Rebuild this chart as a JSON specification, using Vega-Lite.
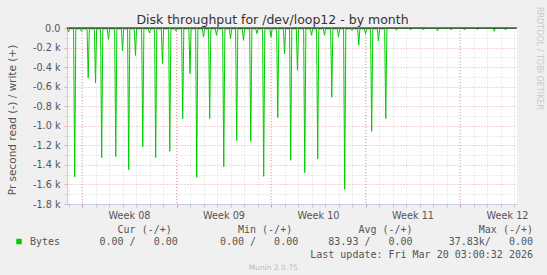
{
  "$schema": "https://vega.github.io/schema/vega-lite/v6.json",
  "width": 450,
  "height": 176,
  "autosize": {"type": "none"},
  "padding": {"left": 67, "top": 28, "right": 30, "bottom": 71},
  "background": "#f0f0f0",
  "config": {"font": "DejaVu Sans", "view": {"stroke": null, "fill": "#ffffff"}},
  "title": {"text": "Disk throughput for /dev/loop12 - by month", "frame": "group", "anchor": "middle", "dx": -19.5, "dy": 24, "offset": 4, "fontSize": 12.5, "fontWeight": "normal", "color": "#333333", "font": "DejaVu Sans"},
  "resolve": {"axis": {"x": "independent", "y": "independent"}},
  "layer": [
    {
      "data": {"values": [
        {"week": "2026-02-16T00:00:00"},
        {"week": "2026-02-23T00:00:00"},
        {"week": "2026-03-02T00:00:00"},
        {"week": "2026-03-09T00:00:00"},
        {"week": "2026-03-16T00:00:00"}
      ]},
      "mark": {"type": "rule", "color": "#e6a0a0", "strokeDash": [1, 2], "strokeWidth": 1},
      "encoding": {
        "x": {"field": "week", "type": "temporal",
          "scale": {"domain": [{"year": 2026, "month": 2, "date": 14, "hours": 21, "minutes": 20}, {"year": 2026, "month": 3, "date": 20, "hours": 5, "minutes": 20}], "nice": false},
          "axis": {"orient": "bottom", "labels": false, "ticks": false, "domain": false, "grid": false, "title": "Munin 2.0.75", "titleFont": "DejaVu Sans", "titleFontSize": 7.5, "titleFontWeight": "normal", "titleColor": "#bbbbbb", "titleX": 205.8, "titleY": 65.7, "titleAlign": "center", "titleBaseline": "alphabetic"}
        }
      }
    },
    {
      "data": {"values": [
        {"t": "2026-02-14T21:00:00", "v": -8},
        {"t": "2026-02-14T22:00:00", "v": -8},
        {"t": "2026-02-15T00:00:00", "v": -40},
        {"t": "2026-02-15T02:00:00", "v": -8},
        {"t": "2026-02-15T09:00:00", "v": -8},
        {"t": "2026-02-15T11:00:00", "v": -1524},
        {"t": "2026-02-15T13:00:00", "v": -8},
        {"t": "2026-02-15T21:00:00", "v": -8},
        {"t": "2026-02-15T23:00:00", "v": -34},
        {"t": "2026-02-16T01:00:00", "v": -8},
        {"t": "2026-02-16T09:00:00", "v": -8},
        {"t": "2026-02-16T11:00:00", "v": -508},
        {"t": "2026-02-16T13:00:00", "v": -8},
        {"t": "2026-02-16T22:00:00", "v": -8},
        {"t": "2026-02-17T00:00:00", "v": -563},
        {"t": "2026-02-17T02:00:00", "v": -8},
        {"t": "2026-02-17T09:00:00", "v": -8},
        {"t": "2026-02-17T11:00:00", "v": -1326},
        {"t": "2026-02-17T13:00:00", "v": -8},
        {"t": "2026-02-17T21:00:00", "v": -8},
        {"t": "2026-02-17T23:00:00", "v": -116},
        {"t": "2026-02-18T01:00:00", "v": -8},
        {"t": "2026-02-18T10:00:00", "v": -8},
        {"t": "2026-02-18T12:00:00", "v": -1316},
        {"t": "2026-02-18T14:00:00", "v": -8},
        {"t": "2026-02-18T22:00:00", "v": -8},
        {"t": "2026-02-19T00:00:00", "v": -232},
        {"t": "2026-02-19T02:00:00", "v": -8},
        {"t": "2026-02-19T09:00:00", "v": -8},
        {"t": "2026-02-19T11:00:00", "v": -1449},
        {"t": "2026-02-19T13:00:00", "v": -8},
        {"t": "2026-02-19T21:00:00", "v": -8},
        {"t": "2026-02-19T23:00:00", "v": -280},
        {"t": "2026-02-20T01:00:00", "v": -8},
        {"t": "2026-02-20T10:00:00", "v": -8},
        {"t": "2026-02-20T12:00:00", "v": -1214},
        {"t": "2026-02-20T14:00:00", "v": -8},
        {"t": "2026-02-20T22:00:00", "v": -8},
        {"t": "2026-02-21T00:00:00", "v": -51},
        {"t": "2026-02-21T02:00:00", "v": -8},
        {"t": "2026-02-21T09:00:00", "v": -8},
        {"t": "2026-02-21T11:00:00", "v": -1326},
        {"t": "2026-02-21T13:00:00", "v": -8},
        {"t": "2026-02-21T21:00:00", "v": -8},
        {"t": "2026-02-21T23:00:00", "v": -365},
        {"t": "2026-02-22T01:00:00", "v": -8},
        {"t": "2026-02-22T10:00:00", "v": -8},
        {"t": "2026-02-22T12:00:00", "v": -1261},
        {"t": "2026-02-22T14:00:00", "v": -8},
        {"t": "2026-02-22T21:00:00", "v": -8},
        {"t": "2026-02-22T23:00:00", "v": -30},
        {"t": "2026-02-23T01:00:00", "v": -8},
        {"t": "2026-02-23T09:00:00", "v": -8},
        {"t": "2026-02-23T11:00:00", "v": -927},
        {"t": "2026-02-23T13:00:00", "v": -8},
        {"t": "2026-02-23T22:00:00", "v": -8},
        {"t": "2026-02-24T00:00:00", "v": -467},
        {"t": "2026-02-24T02:00:00", "v": -8},
        {"t": "2026-02-24T10:00:00", "v": -8},
        {"t": "2026-02-24T12:00:00", "v": -1527},
        {"t": "2026-02-24T14:00:00", "v": -8},
        {"t": "2026-02-24T22:00:00", "v": -8},
        {"t": "2026-02-25T00:00:00", "v": -92},
        {"t": "2026-02-25T02:00:00", "v": -8},
        {"t": "2026-02-25T09:00:00", "v": -8},
        {"t": "2026-02-25T11:00:00", "v": -927},
        {"t": "2026-02-25T13:00:00", "v": -8},
        {"t": "2026-02-25T21:00:00", "v": -8},
        {"t": "2026-02-25T23:00:00", "v": -75},
        {"t": "2026-02-26T01:00:00", "v": -8},
        {"t": "2026-02-26T10:00:00", "v": -8},
        {"t": "2026-02-26T12:00:00", "v": -1419},
        {"t": "2026-02-26T14:00:00", "v": -8},
        {"t": "2026-02-26T22:00:00", "v": -8},
        {"t": "2026-02-27T00:00:00", "v": -109},
        {"t": "2026-02-27T02:00:00", "v": -8},
        {"t": "2026-02-27T09:00:00", "v": -8},
        {"t": "2026-02-27T11:00:00", "v": -1153},
        {"t": "2026-02-27T13:00:00", "v": -8},
        {"t": "2026-02-27T21:00:00", "v": -8},
        {"t": "2026-02-27T23:00:00", "v": -126},
        {"t": "2026-02-28T01:00:00", "v": -8},
        {"t": "2026-02-28T10:00:00", "v": -8},
        {"t": "2026-02-28T12:00:00", "v": -1159},
        {"t": "2026-02-28T14:00:00", "v": -8},
        {"t": "2026-02-28T21:00:00", "v": -8},
        {"t": "2026-02-28T23:00:00", "v": -58},
        {"t": "2026-03-01T01:00:00", "v": -8},
        {"t": "2026-03-01T09:00:00", "v": -8},
        {"t": "2026-03-01T11:00:00", "v": -1517},
        {"t": "2026-03-01T13:00:00", "v": -8},
        {"t": "2026-03-01T22:00:00", "v": -8},
        {"t": "2026-03-02T00:00:00", "v": -92},
        {"t": "2026-03-02T02:00:00", "v": -8},
        {"t": "2026-03-02T10:00:00", "v": -8},
        {"t": "2026-03-02T12:00:00", "v": -917},
        {"t": "2026-03-02T14:00:00", "v": -8},
        {"t": "2026-03-02T22:00:00", "v": -8},
        {"t": "2026-03-03T00:00:00", "v": -263},
        {"t": "2026-03-03T02:00:00", "v": -8},
        {"t": "2026-03-03T09:00:00", "v": -8},
        {"t": "2026-03-03T11:00:00", "v": -1353},
        {"t": "2026-03-03T13:00:00", "v": -8},
        {"t": "2026-03-03T21:00:00", "v": -8},
        {"t": "2026-03-03T23:00:00", "v": -433},
        {"t": "2026-03-04T01:00:00", "v": -8},
        {"t": "2026-03-04T10:00:00", "v": -8},
        {"t": "2026-03-04T12:00:00", "v": -1480},
        {"t": "2026-03-04T14:00:00", "v": -8},
        {"t": "2026-03-04T22:00:00", "v": -8},
        {"t": "2026-03-05T00:00:00", "v": -75},
        {"t": "2026-03-05T02:00:00", "v": -8},
        {"t": "2026-03-05T09:00:00", "v": -8},
        {"t": "2026-03-05T11:00:00", "v": -1337},
        {"t": "2026-03-05T13:00:00", "v": -8},
        {"t": "2026-03-05T21:00:00", "v": -8},
        {"t": "2026-03-05T23:00:00", "v": -75},
        {"t": "2026-03-06T01:00:00", "v": -8},
        {"t": "2026-03-06T10:00:00", "v": -8},
        {"t": "2026-03-06T12:00:00", "v": -709},
        {"t": "2026-03-06T14:00:00", "v": -8},
        {"t": "2026-03-06T22:00:00", "v": -8},
        {"t": "2026-03-07T00:00:00", "v": -92},
        {"t": "2026-03-07T02:00:00", "v": -8},
        {"t": "2026-03-07T09:00:00", "v": -8},
        {"t": "2026-03-07T11:00:00", "v": -1650},
        {"t": "2026-03-07T13:00:00", "v": -8},
        {"t": "2026-03-07T22:00:00", "v": -8},
        {"t": "2026-03-08T00:00:00", "v": -24},
        {"t": "2026-03-08T02:00:00", "v": -8},
        {"t": "2026-03-08T10:00:00", "v": -8},
        {"t": "2026-03-08T12:00:00", "v": -177},
        {"t": "2026-03-08T14:00:00", "v": -8},
        {"t": "2026-03-08T22:00:00", "v": -8},
        {"t": "2026-03-09T00:00:00", "v": -58},
        {"t": "2026-03-09T02:00:00", "v": -8},
        {"t": "2026-03-09T09:00:00", "v": -8},
        {"t": "2026-03-09T11:00:00", "v": -1057},
        {"t": "2026-03-09T13:00:00", "v": -8},
        {"t": "2026-03-09T21:00:00", "v": -8},
        {"t": "2026-03-09T23:00:00", "v": -133},
        {"t": "2026-03-10T01:00:00", "v": -8},
        {"t": "2026-03-10T10:00:00", "v": -8},
        {"t": "2026-03-10T12:00:00", "v": -927},
        {"t": "2026-03-10T14:00:00", "v": -8},
        {"t": "2026-03-10T18:00:00", "v": 0},
        {"t": "2026-03-11T05:00:00", "v": 0},
        {"t": "2026-03-11T07:00:00", "v": -24},
        {"t": "2026-03-11T09:00:00", "v": 0},
        {"t": "2026-03-12T06:00:00", "v": 0},
        {"t": "2026-03-12T08:00:00", "v": -20},
        {"t": "2026-03-12T10:00:00", "v": 0},
        {"t": "2026-03-13T05:00:00", "v": 0},
        {"t": "2026-03-13T07:00:00", "v": -20},
        {"t": "2026-03-13T09:00:00", "v": 0},
        {"t": "2026-03-14T06:00:00", "v": 0},
        {"t": "2026-03-14T08:00:00", "v": -30},
        {"t": "2026-03-14T10:00:00", "v": 0},
        {"t": "2026-03-15T06:00:00", "v": 0},
        {"t": "2026-03-15T08:00:00", "v": -20},
        {"t": "2026-03-15T10:00:00", "v": 0},
        {"t": "2026-03-16T06:00:00", "v": 0},
        {"t": "2026-03-16T08:00:00", "v": -20},
        {"t": "2026-03-16T10:00:00", "v": 0},
        {"t": "2026-03-17T05:00:00", "v": 0},
        {"t": "2026-03-17T07:00:00", "v": -15},
        {"t": "2026-03-17T09:00:00", "v": 0},
        {"t": "2026-03-18T11:00:00", "v": 0},
        {"t": "2026-03-18T13:00:00", "v": -34},
        {"t": "2026-03-18T15:00:00", "v": 0},
        {"t": "2026-03-19T07:00:00", "v": 0},
        {"t": "2026-03-19T09:00:00", "v": -20},
        {"t": "2026-03-19T11:00:00", "v": 0},
        {"t": "2026-03-20T02:00:00", "v": 0}
      ]},
      "mark": {"type": "line", "strokeWidth": 1, "clip": true},
      "encoding": {
        "x": {"field": "t", "type": "temporal",
          "scale": {"domain": [{"year": 2026, "month": 2, "date": 14, "hours": 21, "minutes": 20}, {"year": 2026, "month": 3, "date": 20, "hours": 5, "minutes": 20}], "nice": false},
          "axis": {"orient": "bottom", "tickCount": {"interval": "day", "step": 1}, "grid": true, "gridColor": "#d6d6d6", "gridDash": [1, 2], "gridWidth": 1,
            "domainColor": "#c8c8e8", "ticks": true, "tickSize": 3,
            "tickColor": {"condition": {"test": "day(datum.value) == 1", "value": "#e08c8c"}, "value": "#c8c8c8"},
            "labelExpr": "day(datum.value) == 1 ? 'Week ' + timeFormat(datum.value, '%V') : ''",
            "labelOffset": 47, "labelFlush": false, "labelOverlap": false, "labelBound": false, "labelPadding": 3,
            "labelFont": "DejaVu Sans", "labelFontSize": 9.7, "labelColor": "#555555",
            "title": [
              "Cur (-/+)\u00a0\u00a0\u00a0\u00a0\u00a0\u00a0\u00a0\u00a0\u00a0\u00a0\u00a0Min (-/+)\u00a0\u00a0\u00a0\u00a0\u00a0\u00a0\u00a0\u00a0\u00a0\u00a0\u00a0Avg (-/+)\u00a0\u00a0\u00a0\u00a0\u00a0\u00a0\u00a0\u00a0\u00a0\u00a0\u00a0Max (-/+)\u00a0",
              "0.00 /\u00a0\u00a0\u00a00.00\u00a0\u00a0\u00a0\u00a0\u00a0\u00a0\u00a00.00 /\u00a0\u00a0\u00a00.00\u00a0\u00a0\u00a0\u00a0\u00a083.93 /\u00a0\u00a0\u00a00.00\u00a0\u00a0\u00a0\u00a0\u00a0\u00a037.83k/\u00a0\u00a0\u00a00.00\u00a0",
              "Last update: Fri Mar 20 03:00:32 2026"
            ],
            "titleFont": "DejaVu Sans Mono", "titleFontSize": 10, "titleFontWeight": "normal", "titleColor": "#555555",
            "titleAlign": "right", "titleBaseline": "alphabetic", "titleX": 465.5, "titleY": 28, "titleLineHeight": 12.7, "titleAngle": 0}
        },
        "y": {"field": "v", "type": "quantitative",
          "scale": {"domain": [-1800, 0], "nice": false, "zero": false},
          "axis": {"orient": "left",
            "values": [-1800, -1700, -1600, -1500, -1400, -1300, -1200, -1100, -1000, -900, -800, -700, -600, -500, -400, -300, -200, -100, 0],
            "grid": true,
            "gridColor": {"condition": {"test": "datum.value % 200 == 0", "value": "#e6a8a8"}, "value": "#d6d6d6"},
            "gridDash": [1, 2], "domainColor": "#c8c8e8", "ticks": true, "tickSize": 3,
            "tickColor": {"condition": {"test": "datum.value % 200 == 0", "value": "#e6a8a8"}, "value": "#d6d6d6"},
            "labelExpr": "datum.value == 0 ? '0.0' : (datum.value % 200 == 0 ? '-' + format(-datum.value / 1000, '.1f') + ' k' : '')",
            "labelOverlap": false, "labelPadding": 4, "labelFont": "DejaVu Sans", "labelFontSize": 9.7, "labelColor": "#555555",
            "title": "Pr second read (-) / write (+)", "titleFont": "DejaVu Sans", "titleFontSize": 10.5, "titleFontWeight": "normal", "titleColor": "#555555",
            "titleX": -51.3, "titleY": 91.5, "titleAngle": 270, "titleBaseline": "alphabetic", "titleAlign": "center"}
        },
        "color": {"datum": "Bytes", "scale": {"range": ["#00cc00"]},
          "legend": {"orient": "none", "legendX": -53, "legendY": 208.5, "title": null, "padding": 0,
            "symbolType": "square", "symbolSize": 30, "labelFont": "DejaVu Sans Mono", "labelFontSize": 10, "labelColor": "#555555", "labelOffset": 6,
            "encode": {"symbols": {"update": {"fill": {"value": "#00cc00"}, "stroke": {"value": "#00cc00"}, "strokeWidth": {"value": 0}}}}}
        }
      }
    },
    {
      "data": {"values": [{"zero": 0}]},
      "mark": {"type": "rule", "color": "#000000", "strokeWidth": 1},
      "encoding": {
        "y": {"field": "zero", "type": "quantitative",
          "scale": {"domain": [-1800, 0], "nice": false, "zero": false},
          "axis": {"orient": "right", "labels": false, "ticks": false, "domain": false, "grid": false, "title": "RRDTOOL / TOBI OETIKER", "titleFont": "DejaVu Sans", "titleFontSize": 8, "titleFontWeight": "normal", "titleColor": "#c8c8c8", "titleAngle": 90, "titleX": 19, "titleY": 30, "titleAlign": "center", "titleBaseline": "alphabetic"}
        }
      }
    }
  ]
}
